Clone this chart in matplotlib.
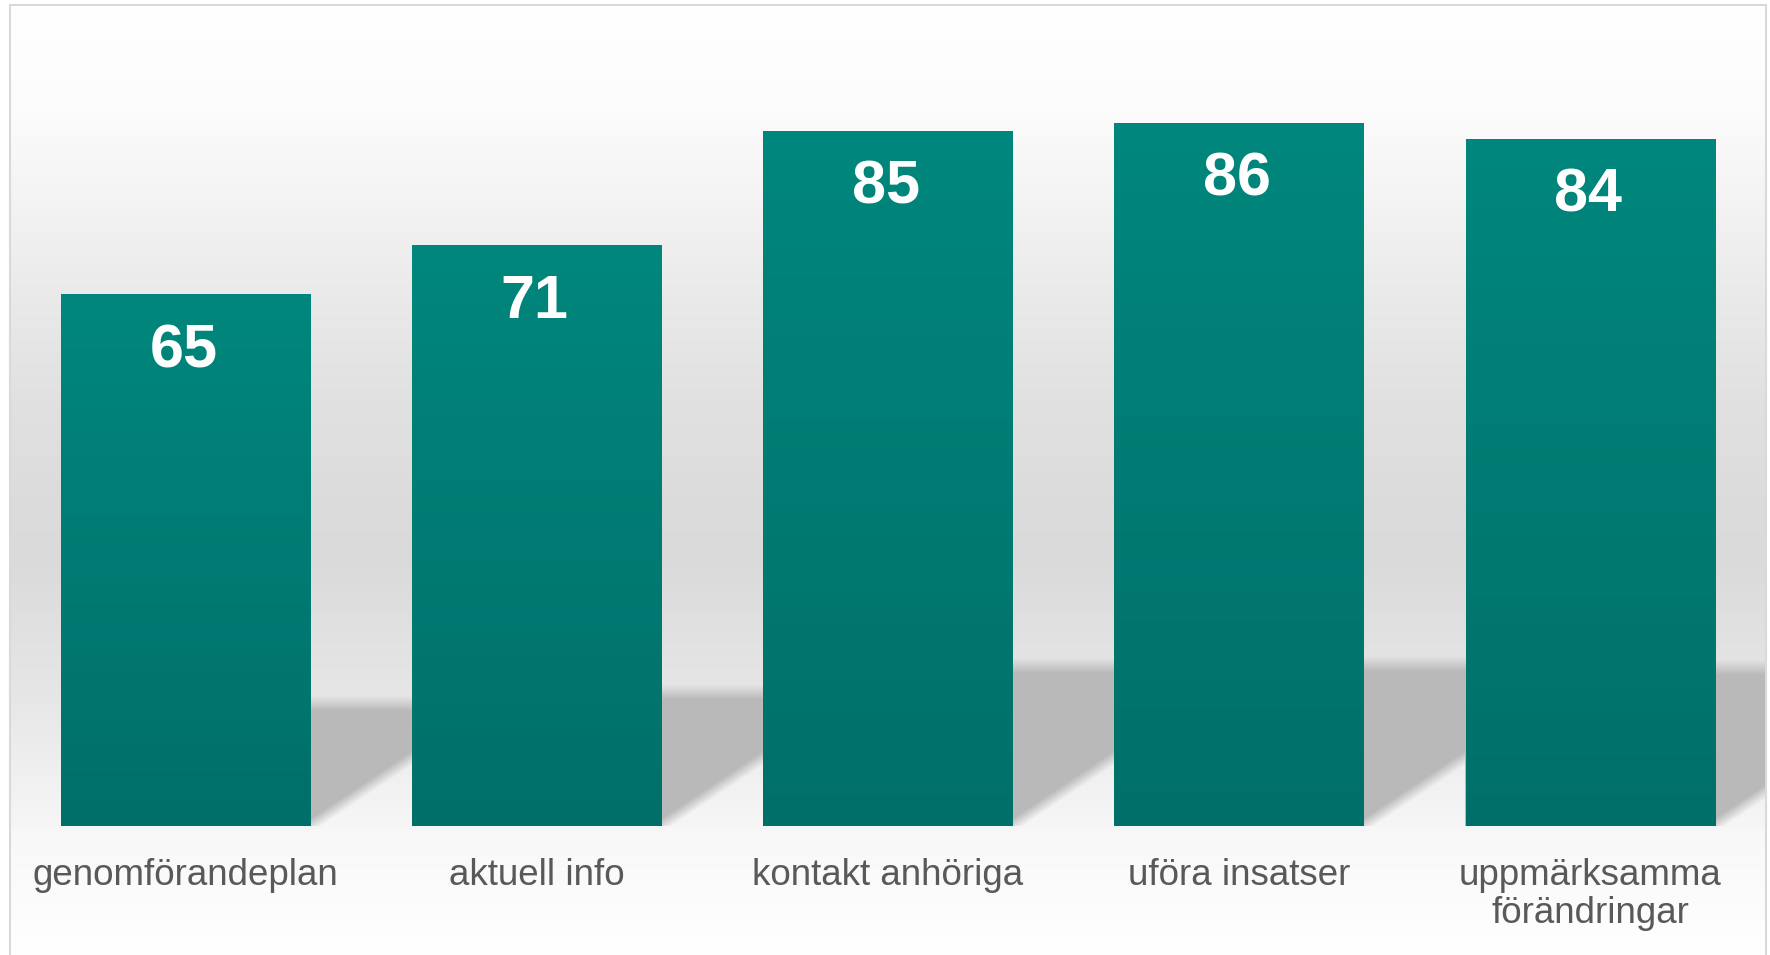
import numpy as np
import matplotlib
matplotlib.use('Agg')
import matplotlib.pyplot as plt
from matplotlib.patches import Rectangle

categories = ['genomförandeplan', 'aktuell info', 'kontakt anhöriga',
              'uföra insatser', 'uppmärksamma\nförändringar']
values = [65, 71, 85, 86, 84]

W, H = 1770, 955
fig = plt.figure(figsize=(W / 100, H / 100), dpi=100)
fig.patch.set_facecolor('white')

# background gradient (pixel rows from top -> gray level)
stops_y = [6, 100, 200, 300, 400, 500, 560, 640, 700, 760, 826, 830, 955]
stops_g = [1.0, 0.99, 0.955, 0.915, 0.882, 0.862, 0.856, 0.885, 0.905, 0.935, 0.965, 0.972, 1.0]
rows = np.arange(6, 955)
grad = np.interp(rows, stops_y, stops_g)
bg = fig.add_axes([10 / W, 0, 1756 / W, (955 - 6) / H], zorder=0)
bg.imshow(np.repeat(grad[:, None, None], 3, axis=2), aspect='auto',
          interpolation='bilinear')
bg.axis('off')

ax = fig.add_axes([10 / W, (955 - 826) / H, 1756 / W, (826 - 8) / H], zorder=1)
ax.set_facecolor('none')
ax.set_xlim(-0.5, 4.5)
ax.set_ylim(0, 100)

bw = 0.711
x = np.arange(len(values))

# soft shadows cast to the right of each bar
nx, ny = 1756, 818
X, Y = np.meshgrid(np.linspace(-0.5, 4.5, nx), np.linspace(0, 100, ny))
ppx, ppy = nx / 5, ny / 100
alpha = np.zeros_like(X)
for i, v in enumerate(values):
    dy = 0.23 * v
    dx = 1.5 * dy * ppy / ppx
    edge = i + bw / 2 + Y * dx / dy
    d_diag = (edge - X) * ppx * 0.55
    d_top = (dy - Y) * ppy
    m = np.clip(0.5 + d_diag / 12, 0, 1) * np.clip(0.5 + d_top / 15, 0, 1)
    m = m * (X >= i - bw / 2)
    alpha = np.maximum(alpha, m)
shadow = np.zeros((ny, nx, 4))
shadow[..., :3] = 0.728
shadow[..., 3] = alpha
ax.imshow(shadow, extent=(-0.5, 4.5, 0, 100), origin='lower', aspect='auto',
          interpolation='bilinear', zorder=1)

bars = ax.bar(x, values, width=bw, color='#007c74', zorder=2)
top_c = np.array([0x00, 0x87, 0x7d]) / 255
bot_c = np.array([0x00, 0x6f, 0x69]) / 255
t = np.linspace(0, 1, 256)[:, None]
bar_grad = (bot_c * t + top_c * (1 - t))[:, None, :]
for b, v in zip(bars, values):
    im = ax.imshow(bar_grad, extent=(b.get_x(), b.get_x() + bw, 0, v),
                   aspect='auto', interpolation='bilinear', zorder=3)
    im.set_clip_path(b)
    ax.text(b.get_x() + bw / 2 - 0.006, v - 7.0, str(v), ha='center', va='center',
            color='white', fontsize=44, fontweight='bold',
            family='Liberation Sans', zorder=4)

ax.set_xticks(x, categories, fontsize=26.5, color='#595959',
              family='Liberation Sans', linespacing=1.13)
ax.tick_params(axis='x', length=0, pad=23)
ax.set_yticks([])
for s in ax.spines.values():
    s.set_visible(False)
ax.set_xlim(-0.5, 4.5)
ax.set_ylim(0, 100)

fig.patches.append(Rectangle((9.5 / W, -0.01), (1766 - 9.5) / W, (955 - 5.5) / H + 0.01,
                             transform=fig.transFigure, fill=False,
                             edgecolor='#d9d9d9', lw=1.5, zorder=5))

fig.savefig('out.png', dpi=100)
